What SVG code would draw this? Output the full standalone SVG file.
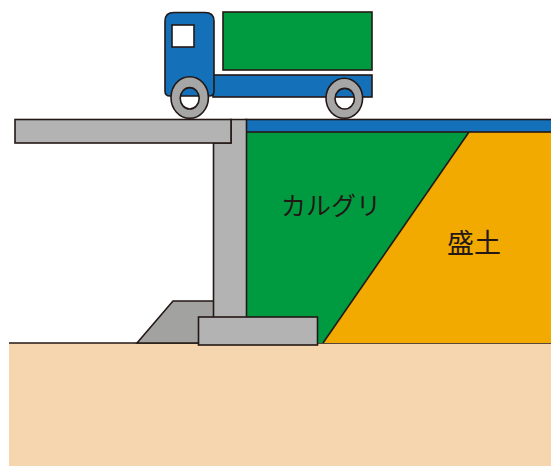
<svg xmlns="http://www.w3.org/2000/svg" width="551" height="466" viewBox="0 0 551 466">
  <style>
    .ln { stroke: #231815; stroke-width: 1.6; stroke-linejoin: miter; }
    .gray { fill: #b3b3b3; }
    .dgray { fill: #a2a2a1; }
    .blue { fill: #1470b8; }
    .green { fill: #009b40; }
    .orange { fill: #f2aa00; }
    .soil { fill: #f5d6ae; }
    .wheel { fill: #a6a6a6; }
    .label { font-family: "Noto Sans CJK JP", "Noto Sans", sans-serif; fill: #231815; }
  </style>

  <!-- ground -->
  <g id="ground">
    <rect class="soil" x="9" y="343" width="542" height="123"/>
    <line class="ln" x1="9" y1="343" x2="551" y2="343"/>
  </g>

  <!-- embankment fill behind the abutment -->
  <g id="embankment">
    <polygon class="orange" points="469,132 551,132 551,343 323,343"/>
    <text class="label" x="447" y="253" font-size="27">盛土</text>
  </g>

  <!-- backfill zone (カルグリ) -->
  <g id="backfill">
    <polygon class="green" points="246,132 469,132 323,343 246,343"/>
    <line class="ln" x1="469" y1="132" x2="323" y2="343"/>
    <text class="label" x="281" y="215" font-size="25">カルグリ</text>
  </g>

  <!-- pavement surface -->
  <g id="pavement">
    <rect class="blue ln" x="246" y="119.5" width="306" height="12.5"/>
  </g>

  <!-- abutment: toe slope, wall, footing -->
  <g id="toe">
    <polygon class="dgray ln" points="137,343 173,301 214,301 214,343"/>
  </g>
  <g id="abutment">
    <polygon class="gray ln" points="213.5,143 231,143 231,119.5 246.5,119.5 246.5,320 213.5,320"/>
  </g>
  <g id="footing">
    <rect class="gray ln" x="198.5" y="317" width="119" height="28"/>
  </g>

  <!-- bridge deck -->
  <g id="deck">
    <rect class="gray ln" x="15" y="119.5" width="216" height="23.5"/>
  </g>

  <!-- truck -->
  <g id="truck">
    <rect class="green ln" x="223" y="12" width="149" height="58"/>
    <rect class="blue ln" x="213" y="75" width="159" height="22"/>
    <path class="blue ln" d="M165,21 Q165,12.5 174,12.5 L205,12.5 Q214,12.5 214,21 L214,91 Q214,96 209,96 L170,96 Q165,96 165,91 Z"/>
    <rect class="ln" fill="#ffffff" x="172" y="25" width="22" height="22"/>
    <path class="wheel ln" fill-rule="evenodd" d="M171,97.5 a18.7,20.8 0 1,0 37.4,0 a18.7,20.8 0 1,0 -37.4,0 Z M180.2,98.3 a9.5,10.7 0 1,0 19,0 a9.5,10.7 0 1,0 -19,0 Z"/>
    <path class="wheel ln" fill-rule="evenodd" d="M326,98.3 a18.3,20 0 1,0 36.6,0 a18.3,20 0 1,0 -36.6,0 Z M335,98.7 a9.7,10.3 0 1,0 19.4,0 a9.7,10.3 0 1,0 -19.4,0 Z"/>
  </g>
</svg>
